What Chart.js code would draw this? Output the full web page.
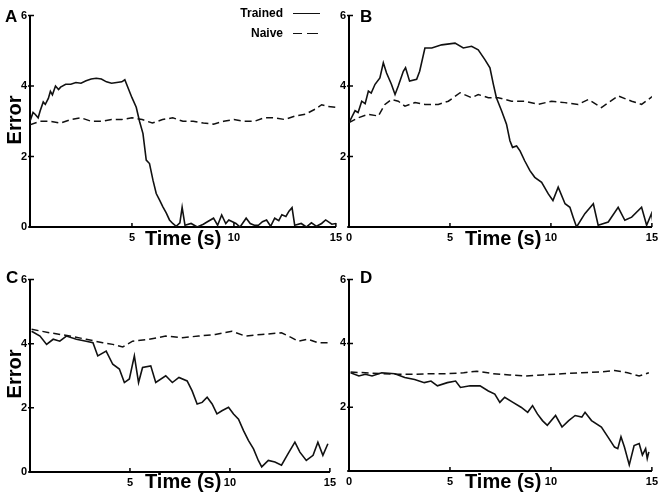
<!DOCTYPE html>
<html>
<head>
<meta charset="utf-8">
<script src="https://cdn.jsdelivr.net/npm/chart.js@4"></script>
<style>
  body { margin: 0; background: #fff; width: 664px; height: 500px; position: relative; overflow: hidden; font-family: "Liberation Sans", Arial, sans-serif; color: #000; }
  canvas { position: absolute; }
  .lbl { position: absolute; font-weight: bold; line-height: 1; white-space: nowrap; }
  .panel { font-size: 17px; }
  .time { font-size: 20px; }
  .err { font-size: 20px; transform: translate(-50%, -50%) rotate(-90deg); }
  .leg { font-size: 12px; text-align: right; width: 60px; }
  .swatch { position: absolute; height: 0; border-top: 1.6px solid #111; }
</style>
</head>
<body>
<canvas id="chartA" width="336" height="241" style="left:10px;top:6px"></canvas>
<canvas id="chartB" width="333" height="241" style="left:329px;top:6px"></canvas>
<canvas id="chartC" width="330" height="222" style="left:10px;top:270px"></canvas>
<canvas id="chartD" width="333" height="221" style="left:329px;top:270px"></canvas>

<div class="lbl panel" style="left:5px;top:8px">A</div>
<div class="lbl panel" style="left:360px;top:8px">B</div>
<div class="lbl panel" style="left:6px;top:269px">C</div>
<div class="lbl panel" style="left:360px;top:269px">D</div>

<div class="lbl time" style="left:145px;top:228px">Time (s)</div>
<div class="lbl time" style="left:465px;top:228px">Time (s)</div>
<div class="lbl time" style="left:145px;top:471px">Time (s)</div>
<div class="lbl time" style="left:465px;top:471px">Time (s)</div>

<div class="lbl err" style="left:14px;top:120px">Error</div>
<div class="lbl err" style="left:14px;top:374px">Error</div>

<div class="lbl leg" style="left:223px;top:7px">Trained</div>
<div class="lbl leg" style="left:223px;top:27px">Naive</div>
<div class="swatch" style="left:293px;top:13px;width:27px"></div>
<div class="swatch" style="left:293px;top:33px;width:9px"></div>
<div class="swatch" style="left:307px;top:33px;width:11px"></div>

<script>
// axis ticks
const xTickValues = [0, 5, 10, 15];
const yTickValues = [0, 2, 4, 6];

// panel A
const timeTrainedA = [0, 0.15, 0.25, 0.4, 0.5, 0.65, 0.75, 0.9, 1, 1.1, 1.25, 1.4, 1.5, 1.75, 2, 2.25, 2.5, 2.75, 3, 3.25, 3.5, 3.75, 4, 4.25, 4.5, 4.65,
  5, 5.21, 5.37, 5.54, 5.7, 5.86, 6.03, 6.19, 6.35, 6.51, 6.68, 6.84, 7, 7.17, 7.35, 7.46, 7.6, 7.9, 8.2, 8.5, 8.7,
  9, 9.2, 9.4, 9.6, 9.75, 10.1, 10.3, 10.6, 10.8, 11, 11.2, 11.4, 11.6, 11.8, 12, 12.2, 12.35, 12.55, 12.7, 12.85,
  12.98, 13.3, 13.55, 13.8, 14.05, 14.3, 14.5, 14.8, 15];
const trainedA = [3.0, 3.25, 3.2, 3.1, 3.3, 3.55, 3.48, 3.65, 3.85, 3.75, 4.0, 3.9, 3.97, 4.05, 4.05, 4.1, 4.08, 4.15, 4.2, 4.22, 4.2, 4.12, 4.08, 4.1, 4.12, 4.18,
  3.67, 3.4, 3.0, 2.65, 1.9, 1.8, 1.33, 0.95, 0.77, 0.58, 0.4, 0.2, 0.1, 0.02, 0.12, 0.56, 0.05, 0.1, 0.0, 0.08, 0.15,
  0.25, 0.05, 0.34, 0.1, 0.2, 0.1, 0.0, 0.25, 0.1, 0.05, 0.05, 0.15, 0.2, 0.02, 0.25, 0.18, 0.35, 0.3, 0.45, 0.55,
  0.05, 0.1, 0.0, 0.12, 0.02, 0.1, 0.2, 0.08, 0.1];
const timeNaiveA = [0, 0.5, 1, 1.5, 2, 2.5, 3, 3.5, 4, 4.5, 5, 5.5, 6, 6.5, 7, 7.5, 8, 8.5, 9, 9.5, 10, 10.5, 11, 11.5,
  12, 12.5, 13, 13.5, 14, 14.3, 14.6, 15];
const naiveA = [2.9, 3.0, 3.0, 2.95, 3.05, 3.1, 3.0, 3.0, 3.05, 3.05, 3.1, 3.05, 2.95, 3.05, 3.1, 3.0, 3.0, 2.95, 2.92, 3.0,
  3.05, 3.0, 3.0, 3.1, 3.1, 3.05, 3.15, 3.2, 3.35, 3.47, 3.42, 3.4];

// panel B
const timeTrainedB = [0, 0.3, 0.45, 0.63, 0.8, 0.96, 1.1, 1.29, 1.53, 1.7, 1.86, 2.1, 2.28, 2.44, 2.69, 2.8, 3.0, 3.35, 3.5, 3.76, 4.1,
  4.59, 5.25, 5.66, 6.07, 6.4, 6.73, 6.98, 7.15, 7.3, 7.56, 7.8, 7.97, 8.1, 8.3, 8.47, 8.7, 8.96, 9.2, 9.54, 9.87, 10.1,
  10.36, 10.7, 10.94, 11.1, 11.27, 11.68, 12.1, 12.34, 12.84, 13.33, 13.66, 14.0, 14.49, 14.74, 14.98, 15.06];
const trainedB = [2.96, 3.3, 3.25, 3.57, 3.5, 3.86, 3.8, 4.05, 4.23, 4.66, 4.37, 4.05, 3.76, 4.0, 4.42, 4.52, 4.14, 4.19, 4.42, 5.08, 5.08,
  5.17, 5.22, 5.08, 5.13, 5.03, 4.75, 4.52, 4.05, 3.67, 3.29, 2.92, 2.45, 2.26, 2.3, 2.16, 1.88, 1.6, 1.41, 1.27, 0.94, 0.75,
  1.13, 0.66, 0.56, 0.28, 0.0, 0.38, 0.66, 0.05, 0.14, 0.56, 0.19, 0.28, 0.56, 0.05, 0.38, 0.1];
const timeNaiveB = [0, 0.46, 0.96, 1.45, 1.78, 2.1, 2.44, 2.77, 3.27, 3.76, 4.42, 4.92, 5.5, 6.07, 6.4, 6.9, 7.39, 8.05,
  8.7, 9.37, 10.03, 10.69, 11.35, 11.85, 12.5, 13.33, 14.0, 14.49, 15.06];
const naiveB = [2.96, 3.1, 3.2, 3.15, 3.48, 3.62, 3.57, 3.43, 3.53, 3.48, 3.48, 3.57, 3.81, 3.67, 3.76, 3.67, 3.67, 3.57,
  3.57, 3.48, 3.57, 3.53, 3.48, 3.62, 3.39, 3.72, 3.57, 3.48, 3.72];

// panel C
const timeTrainedC = [0.08, 0.5, 0.83, 1.16, 1.49, 1.82, 2.32, 2.81, 3.15, 3.39, 3.81, 4.14, 4.47, 4.72, 4.97, 5.22, 5.43,
  5.63, 6.04, 6.29, 6.79, 7.12, 7.45, 7.86, 8.11, 8.36, 8.61, 8.86, 9.11, 9.35, 9.6, 9.93, 10.18, 10.43, 10.68, 10.93,
  11.18, 11.42, 11.59, 11.92, 12.25, 12.58, 12.91, 13.25, 13.5, 13.82, 14.16, 14.4, 14.65, 14.9];
const trainedC = [4.39, 4.24, 3.98, 4.14, 4.08, 4.24, 4.14, 4.08, 4.03, 3.62, 3.77, 3.36, 3.21, 2.79, 2.9, 3.62, 2.79,
  3.26, 3.31, 2.79, 3.0, 2.79, 2.95, 2.84, 2.53, 2.12, 2.17, 2.33, 2.12, 1.81, 1.91, 2.02, 1.81, 1.65, 1.29, 0.98,
  0.72, 0.36, 0.16, 0.36, 0.31, 0.21, 0.57, 0.93, 0.62, 0.36, 0.52, 0.93, 0.52, 0.88];
const timeNaiveC = [0.08, 1.0, 1.99, 2.81, 3.64, 4.14, 4.64, 5.13, 5.96, 6.79, 7.62, 8.44, 9.27, 10.1, 10.76, 11.59, 12.58,
  13.08, 13.41, 13.91, 14.4, 14.9];
const naiveC = [4.45, 4.34, 4.24, 4.14, 4.03, 3.98, 3.9, 4.08, 4.14, 4.24, 4.19, 4.24, 4.29, 4.39, 4.24, 4.29, 4.34, 4.19,
  4.08, 4.14, 4.03, 4.03];

// panel D
const timeTrainedD = [0.08, 0.49, 0.81, 1.14, 1.62, 2.27, 2.76, 3.25, 3.73, 4.06, 4.38, 4.87, 5.28, 5.52, 6.0, 6.49, 6.9,
  7.22, 7.47, 7.71, 8.12, 8.52, 8.85, 9.09, 9.33, 9.58, 9.82, 10.23, 10.55, 10.88, 11.2, 11.53, 11.69, 12.01, 12.5,
  12.82, 13.15, 13.31, 13.47, 13.64, 13.88, 14.12, 14.37, 14.53, 14.69, 14.77, 14.85];
const trainedD = [3.08, 2.98, 3.03, 2.98, 3.08, 3.05, 2.93, 2.87, 2.77, 2.82, 2.67, 2.77, 2.82, 2.62, 2.67, 2.67, 2.51,
  2.41, 2.15, 2.31, 2.15, 2.0, 1.84, 2.05, 1.79, 1.58, 1.43, 1.74, 1.38, 1.58, 1.74, 1.69, 1.84, 1.58, 1.38, 1.07,
  0.75, 0.7, 1.07, 0.75, 0.19, 0.8, 0.86, 0.5, 0.7, 0.39, 0.6];
const timeNaiveD = [0.08, 0.81, 1.62, 2.44, 3.25, 4.06, 4.87, 5.68, 6.33, 7.14, 7.95, 8.77, 9.58, 10.55, 11.53, 12.5,
  13.15, 13.8, 14.37, 14.85];
const naiveD = [3.1, 3.08, 3.05, 3.03, 3.03, 3.05, 3.05, 3.08, 3.13, 3.05, 3.01, 2.98, 3.01, 3.05, 3.08, 3.11, 3.15,
  3.08, 2.98, 3.08];

function pairs(ts, ys) {
  return ts.map((t, i) => ({ x: t, y: ys[i] }));
}

// small ticks pointing into the plot
const inwardTicks = {
  id: 'inwardTicks',
  afterDraw(chart) {
    const { ctx, chartArea, scales: { x, y } } = chart;
    ctx.save();
    ctx.strokeStyle = '#000';
    ctx.lineWidth = 1.5;
    ctx.beginPath();
    xTickValues.forEach(v => {
      const px = x.getPixelForValue(v);
      ctx.moveTo(px, chartArea.bottom);
      ctx.lineTo(px, chartArea.bottom - 4);
    });
    yTickValues.forEach(v => {
      const py = y.getPixelForValue(v);
      ctx.moveTo(chartArea.left - 2, py);
      ctx.lineTo(chartArea.left + 4, py);
    });
    ctx.stroke();
    ctx.restore();
  }
};

const tickFont = { family: 'Liberation Sans', size: 11, weight: 'bold' };

function makePanel(id, tT, yT, tN, yN, showXZero, showYZero) {
  return new Chart(document.getElementById(id), {
    type: 'line',
    data: {
      datasets: [{
        label: 'Trained',
        data: pairs(tT, yT),
        borderColor: '#111',
        borderWidth: 1.6,
        pointRadius: 0,
        tension: 0
      }, {
        label: 'Naive',
        data: pairs(tN, yN),
        borderColor: '#111',
        borderWidth: 1.5,
        borderDash: [7, 4],
        pointRadius: 0,
        tension: 0
      }]
    },
    options: {
      responsive: false,
      animation: false,
      devicePixelRatio: 1,
      layout: { padding: { top: 8, right: 8, left: 0, bottom: 0 } },
      plugins: { legend: { display: false }, tooltip: { enabled: false } },
      scales: {
        x: {
          type: 'linear',
          min: 0, max: 15,
          afterBuildTicks: s => { s.ticks = xTickValues.map(v => ({ value: v })); },
          afterFit: s => { s.height = 20; },
          grid: { display: false, drawTicks: false },
          border: { display: true, color: '#000', width: 2 },
          ticks: {
            color: '#000', font: tickFont, padding: 4, maxRotation: 0,
            callback: v => (v === 0 && !showXZero) ? '' : String(v)
          }
        },
        y: {
          min: 0, max: 6,
          afterBuildTicks: s => { s.ticks = yTickValues.map(v => ({ value: v })); },
          afterFit: s => { s.width = 20; },
          grid: { display: false, drawTicks: false },
          border: { display: true, color: '#000', width: 2 },
          ticks: {
            color: '#000', font: tickFont, padding: 3,
            callback: v => (v === 0 && !showYZero) ? '' : String(v)
          }
        }
      }
    },
    plugins: [inwardTicks]
  });
}

makePanel('chartA', timeTrainedA, trainedA, timeNaiveA, naiveA, false, true);
makePanel('chartB', timeTrainedB, trainedB, timeNaiveB, naiveB, true, false);
makePanel('chartC', timeTrainedC, trainedC, timeNaiveC, naiveC, false, true);
makePanel('chartD', timeTrainedD, trainedD, timeNaiveD, naiveD, true, false);
</script>
</body>
</html>
